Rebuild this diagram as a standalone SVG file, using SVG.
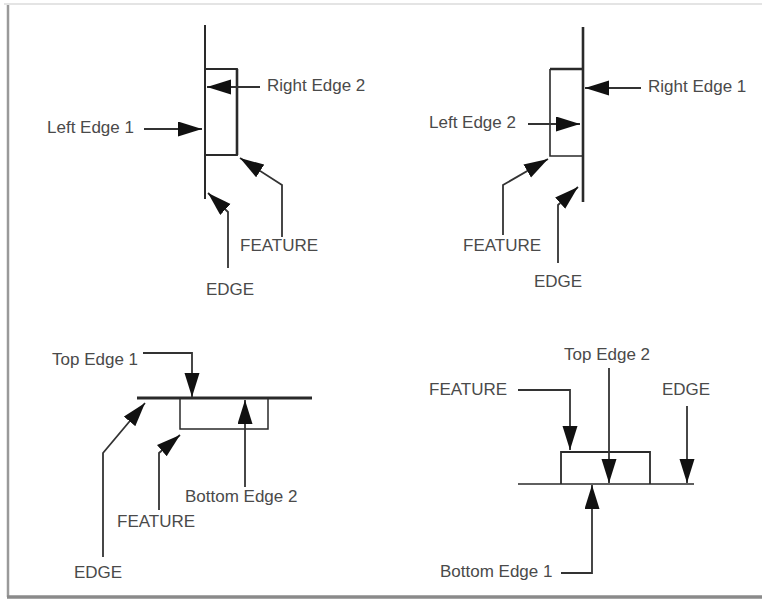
<svg xmlns="http://www.w3.org/2000/svg" width="762" height="601" viewBox="0 0 762 601">
<style>
.t{font-family:"Liberation Sans",Arial,sans-serif;font-size:17px;fill:#4a4a4a}
.c{fill:none;stroke:#333;stroke-width:1.8;marker-end:url(#ah)}
.s{fill:none;stroke:#2a2a2a}
</style>
<defs>
<marker id="ah" markerUnits="userSpaceOnUse" markerWidth="26" markerHeight="16" refX="24" refY="7.5" orient="auto">
<path d="M0,0 L24,7.5 L0,15 z" fill="#111"/>
</marker>
</defs>
<rect width="762" height="601" fill="#fff"/>
<g id="frame">
<line x1="4" y1="4" x2="762" y2="4" stroke="#e4e4e4" stroke-width="2"/>
<line x1="8" y1="5" x2="8" y2="597" stroke="#9a9a9a" stroke-width="2.5"/>
<line x1="7" y1="597" x2="762" y2="597" stroke="#8a8a8a" stroke-width="3.5"/>
</g>
<g id="panel1">
<line class="s" x1="205" y1="25" x2="205" y2="199" stroke-width="2"/>
<path class="s" d="M205,69 H237 V155 H205" stroke-width="1.8"/>
<line class="s" x1="237" y1="69" x2="237" y2="155" stroke-width="2.6"/>
<text class="t" x="267" y="91">Right Edge 2</text>
<text class="t" x="47" y="133">Left Edge 1</text>
<text class="t" x="240" y="251">FEATURE</text>
<text class="t" x="206" y="295">EDGE</text>
</g>
<g id="panel2">
<line class="s" x1="583" y1="27" x2="583" y2="202" stroke-width="2.6"/>
<path class="s" d="M583,156 H550 V69" stroke-width="1.6"/>
<line class="s" x1="550" y1="69" x2="583" y2="69" stroke-width="2.6"/>
<text class="t" x="648" y="92">Right Edge 1</text>
<text class="t" x="429" y="128">Left Edge 2</text>
<text class="t" x="463" y="251">FEATURE</text>
<text class="t" x="534" y="287">EDGE</text>
</g>
<g id="panel3">
<line class="s" x1="137" y1="398" x2="312" y2="398" stroke-width="3"/>
<path class="s" d="M180,398 V429 H268 V398" stroke-width="1.5"/>
<text class="t" x="52" y="365">Top Edge 1</text>
<text class="t" x="74" y="578">EDGE</text>
<text class="t" x="117" y="527">FEATURE</text>
<text class="t" x="185" y="502">Bottom Edge 2</text>
</g>
<g id="panel4">
<line class="s" x1="518" y1="484" x2="694" y2="484" stroke-width="1.5"/>
<path class="s" d="M561,484 V452 H650 V484" stroke-width="1.8"/>
<text class="t" x="564" y="360">Top Edge 2</text>
<text class="t" x="429" y="395">FEATURE</text>
<text class="t" x="662" y="395">EDGE</text>
<text class="t" x="440" y="577">Bottom Edge 1</text>
</g>
<g id="connectors">
<path class="c" d="M260,87 L207,87"/>
<path class="c" d="M144,129 L202,129"/>
<path class="c" d="M282,237 L282,185 L240,158"/>
<path class="c" d="M228,268 L228,212 L208,193"/>
<path class="c" d="M641,88 L585,88"/>
<path class="c" d="M528,124 L580,124"/>
<path class="c" d="M503,235 L503,185 L548,159"/>
<path class="c" d="M558,263 L558,205 L578,187"/>
<path class="c" d="M143,353 L192,353 L192,397"/>
<path class="c" d="M103,557 L103,453 L145,403"/>
<path class="c" d="M159,510 L159,453 L180,435"/>
<path class="c" d="M245,487 L245,400"/>
<path class="c" d="M609,368 L609,483"/>
<path class="c" d="M518,390 L570,390 L570,450"/>
<path class="c" d="M687,406 L687,483"/>
<path class="c" d="M561,573 L592,573 L592,485"/>
</g>
</svg>
